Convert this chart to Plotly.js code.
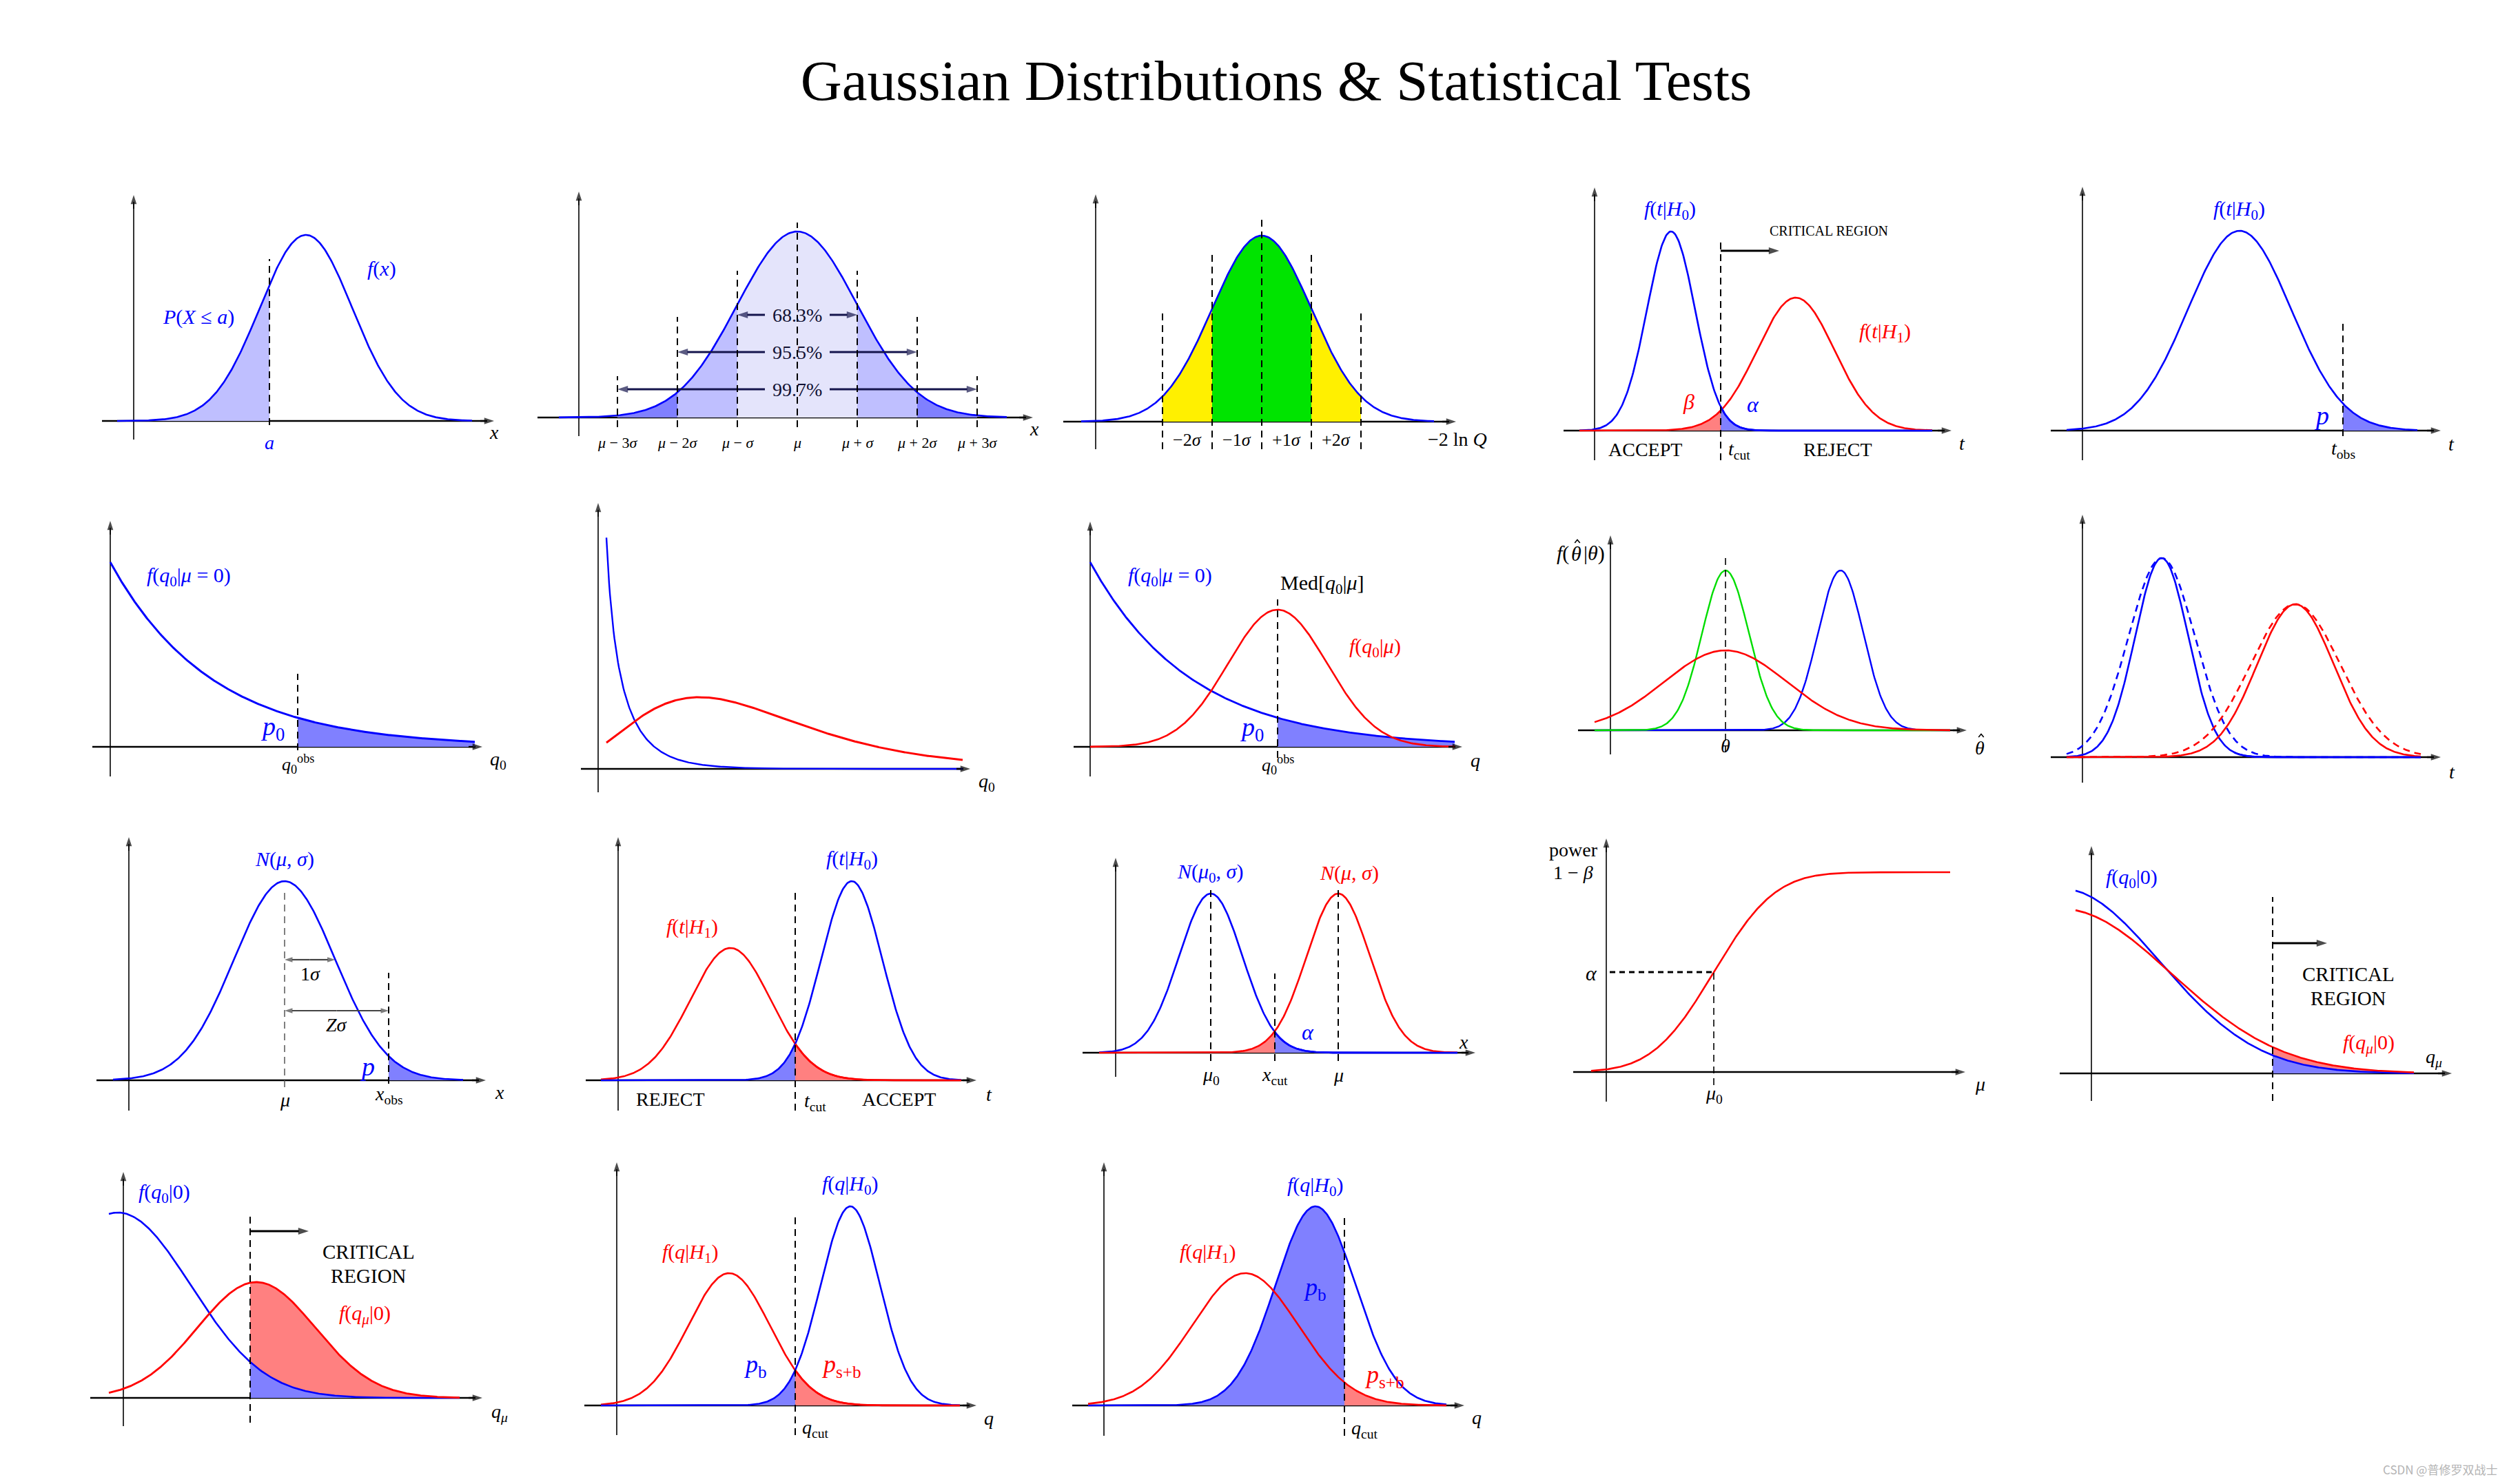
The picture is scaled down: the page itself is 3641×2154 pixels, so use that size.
<!DOCTYPE html>
<html>
<head>
<meta charset="utf-8">
<script src="https://cdn.plot.ly/plotly-3.0.1.min.js"></script>
<style>html,body{margin:0;padding:0;background:#fff;}#chart{width:3641px;height:2154px;}</style>
</head>
<body>
<div id="chart"></div>
<script>
// ================= DATA (drawing units: 1 unit = 50 px of the original figure) =================
// Gaussian curves are given as [mean, sigma, peak height]
// Panel 1 : f(x), P(X <= a)
const p1Curve = [5.00, 1.345, 5.40];
const p1Span  = [-0.48, 9.82];
const p1A     = 3.94;
// Panel 2 : 68.3 / 95.5 / 99.7 %
const p2Curve = [6.34, 1.74, 5.40];
const p2Span  = [-0.58, 12.42];
const p2Sigmas = [-3, -2, -1, 0, 1, 2, 3];
const p2TickLabels = ['<i>μ</i> − 3<i>σ</i>', '<i>μ</i> − 2<i>σ</i>', '<i>μ</i> − <i>σ</i>', '<i>μ</i>',
                      '<i>μ</i> + <i>σ</i>', '<i>μ</i> + 2<i>σ</i>', '<i>μ</i> + 3<i>σ</i>'];
const p2Pct = ['68.3%', '95.5%', '99.7%'];
// Panel 3 : -2 ln Q bands
const p3Curve = [4.82, 1.44, 5.40];
const p3Span  = [-0.42, 9.82];
const p3Sigmas = [-2, -1, 0, 1, 2];
const p3BandLabels = ['−2<i>σ</i>', '−1<i>σ</i>', '+1<i>σ</i>', '+2<i>σ</i>'];
// Panel 4 : f(t|H0), f(t|H1), critical region
const p4H0 = [2.22, 0.70, 5.78];
const p4H1 = [5.84, 1.12, 3.86];
const p4Span = [-0.44, 9.80];
const p4Cut = 3.66;
// Panel 5 : p-value
const p5H0 = [4.56, 1.50, 5.80];
const p5Span = [-0.46, 9.72];
const p5Obs = 7.56;
// Panel 6 : f(q0|mu=0)  [height at 0, decay length]
const p6Exp = [5.36, 2.94];
const p6Span = [0, 10.58];
const p6Obs = 5.44;
// Panel 7 : chi-square like / skewed
const p7Chi  = [4.18, 1.0];              // amplitude, scale
const p7Skew = [2.08, 2.94, 3.5, 0.383]; // peak, mode, shift, log-width
const p7Span = [0.24, 10.58];
// Panel 8 : Med[q0|mu]
const p8Exp = [5.36, 2.94];
const p8Alt = [5.44, 1.44, 3.98];
const p8Span = [0, 10.58];
const p8Obs = 5.44;
// Panel 9 : f(theta_hat|theta)
const p9Green = [3.34, 0.68, 4.64];
const p9Red   = [3.34, 1.78, 2.32];
const p9Blue  = [6.68, 0.66, 4.64];
const p9Span  = [-0.46, 9.86];
// Panel 10 : solid vs dashed
const p10BlueSolid = [2.30, 0.77, 5.78];
const p10BlueDash  = [2.30, 0.96, 5.78];
const p10RedSolid  = [6.18, 1.11, 4.44];
const p10RedDash   = [6.18, 1.30, 4.44];
const p10Span = [-0.46, 9.82];
// Panel 11 : Z sigma
const p11Curve = [4.52, 1.47, 5.78];
const p11Span = [-0.46, 9.70];
const p11Obs = 7.54;
// Panel 12 : reject / accept
const p12H1 = [3.26, 1.17, 3.84];
const p12H0 = [6.78, 0.89, 5.78];
const p12Span = [-0.50, 9.96];
const p12Cut = 5.14;
// Panel 13 : N(mu0,sigma), N(mu,sigma)
const p13Null = [2.76, 0.92, 4.62];
const p13Alt  = [6.46, 0.92, 4.62];
const p13Span = [-0.48, 9.92];
const p13Cut = 4.62;
// Panel 14 : power curve [centre, width, plateau]
const p14Power = [3.12, 1.40, 5.80];
const p14Span = [-0.44, 9.98];
// Panel 15 : f(q0|0), f(q_mu|0)
const p15Q0  = [-0.86, 2.84, 5.36];
const p15Qmu = [-0.89, 3.21, 4.78];
const p15Span = [-0.46, 9.36];
const p15Cut = 5.26;
// Panel 16
const p16Q0  = [-0.16, 2.12, 5.38];
const p16Qmu = [3.86, 1.71, 3.36];
const p16Span = [-0.42, 9.76];
const p16Cut = 3.68;
// Panel 17 : p_b, p_s+b
const p17H1 = [3.26, 1.18, 3.84];
const p17H0 = [6.78, 0.86, 5.78];
const p17Span = [-0.46, 9.96];
const p17Cut = 5.18;
// Panel 18
const p18H1 = [4.10, 1.54, 3.84];
const p18H0 = [6.14, 1.16, 5.78];
const p18Span = [-0.46, 9.94];
const p18Cut = 6.98;

// ================= LAYOUT (panel frames: origin in px, axis extents in units) =================
const W = 3641, H = 2154, U = 50;
const PADX = 1.3, PADY0 = 1.0, PADY1 = 0.6;
const frames = [
  {o:[194,611],  x:[-0.92,10.46], y:[-0.54,6.56]},
  {o:[840,606],  x:[-1.20,13.18], y:[-0.54,6.56]},
  {o:[1590,612], x:[-0.94,10.46], y:[-0.80,6.60]},
  {o:[2314,625], x:[-0.90,10.36], y:[-0.86,7.06]},
  {o:[3022,625], x:[-0.92,10.40], y:[-0.86,7.08]},
  {o:[160,1084], x:[-0.52,10.80], y:[-0.86,6.56]},
  {o:[868,1116], x:[-0.50,10.80], y:[-0.68,7.72]},
  {o:[1582,1084],x:[-0.48,10.80], y:[-0.86,6.54]},
  {o:[2337,1060],x:[-0.94,10.34], y:[-0.70,5.66]},
  {o:[3022,1099],x:[-0.92,10.40], y:[-0.74,7.04]},
  {o:[187,1568], x:[-0.94,10.36], y:[-0.88,7.06]},
  {o:[897,1568], x:[-0.94,10.40], y:[-0.88,7.06]},
  {o:[1619,1528],x:[-0.96,10.44], y:[-0.70,5.66]},
  {o:[2331,1556],x:[-0.96,10.42], y:[-0.86,6.78]},
  {o:[3035,1558],x:[-0.92,10.46], y:[-0.80,6.60]},
  {o:[179,2029], x:[-0.96,10.42], y:[-0.82,6.56]},
  {o:[895,2040], x:[-0.94,10.44], y:[-0.86,7.06]},
  {o:[1602,2040],x:[-0.92,10.46], y:[-0.88,7.06]}
];

const FONT = "'Liberation Serif','Times New Roman',serif";
const BLUE = '#0000ff', RED = '#ff0000', GREEN = '#00dd00', BLACK = '#000000';
const FB = '#8080ff', FB2 = '#bfbfff', FB3 = '#e4e4fb', FR = '#ff8080';
const YEL = '#fff000', GRN = '#00e400';

const traces = [], arrowTraces = [], shapes = [], annotations = [];
const ref = k => ({x: k === 1 ? 'x' : 'x' + k, y: k === 1 ? 'y' : 'y' + k});
function sample(a, b, n) { const xs = []; for (let i = 0; i <= n; i++) xs.push(a + (b - a) * i / n); return xs; }
const gauss = p => x => p[2] * Math.exp(-Math.pow(x - p[0], 2) / (2 * p[1] * p[1]));
function erf(x) {
  const t = 1 / (1 + 0.3275911 * Math.abs(x));
  const y = 1 - (((((1.061405429 * t - 1.453152027) * t) + 1.421413741) * t - 0.284496736) * t + 0.254829592) * t * Math.exp(-x * x);
  return x >= 0 ? y : -y;
}
function line(k, f, span, color, width, dash) {
  const r = ref(k), xs = sample(span[0], span[1], 400);
  traces.push({type:'scatter', mode:'lines', x:xs, y:xs.map(f), xaxis:r.x, yaxis:r.y,
    line:{color:color, width:width || 2.6, dash:dash || 'solid'}, hoverinfo:'skip', showlegend:false});
}
function area(k, f, a, b, color, g) {
  const r = ref(k), xs = sample(a, b, 240);
  const top = xs.map(f), bot = g ? xs.map(g) : xs.map(() => 0);
  traces.push({type:'scatter', mode:'lines', x:xs.concat(xs.slice().reverse()), y:top.concat(bot.slice().reverse()),
    fill:'toself', fillcolor:color, line:{width:0, color:color}, xaxis:r.x, yaxis:r.y, hoverinfo:'skip', showlegend:false});
}
function seg(k, x0, y0, x1, y1, color, width, dash, layer) {
  const r = ref(k);
  shapes.push({type:'line', xref:r.x, yref:r.y, x0:x0, y0:y0, x1:x1, y1:y1,
    line:{color:color || BLACK, width:width || 2, dash:dash || 'solid'}, layer:layer || 'above'});
}
function vdash(k, x, y0, y1, color, width) { seg(k, x, y0, x, y1, color || BLACK, width || 2, '10px,7px'); }
// small circumflex accent (for theta-hat) drawn as a path
function hat(k, x, y) {
  const r = ref(k);
  shapes.push({type:'path', xref:r.x, yref:r.y, path:`M ${x - 0.075},${y} L ${x},${y + 0.09} L ${x + 0.075},${y}`,
    line:{color:BLACK, width:1.6}, layer:'above'});
}
// arrow from (x0,y0) to head at (x1,y1), drawn as a line trace with an arrow marker at its end
function arrow(k, x0, y0, x1, y1, color, width, size) {
  const r = ref(k);
  arrowTraces.push({type:'scatter', mode:'lines+markers', x:[x0, x1], y:[y0, y1], xaxis:r.x, yaxis:r.y,
    line:{color:color, width:width}, cliponaxis:false, hoverinfo:'skip', showlegend:false,
    marker:{symbol:['circle', 'arrow'], size:[0, size || 14], color:color, angleref:'previous', line:{width:0}}});
}
function label(k, x, y, text, color, size, anchor) {
  const r = ref(k);
  annotations.push({xref:r.x, yref:r.y, x:x, y:y, text:text, showarrow:false,
    font:{family:FONT, size:size || 30, color:color || BLACK}, xanchor:anchor || 'center', yanchor:'middle'});
}

const layout = {
  width:W, height:H, margin:{l:0, r:0, t:0, b:0}, paper_bgcolor:'#ffffff', plot_bgcolor:'rgba(0,0,0,0)',
  showlegend:false,
  title:{text:'Gaussian Distributions &amp; Statistical Tests', font:{family:FONT, size:83, color:BLACK},
         x:1852 / W, y:1 - 116 / H, xanchor:'center', yanchor:'middle', xref:'paper', yref:'container'}
};

// axes + axis arrows
frames.forEach((fr, i) => {
  const k = i + 1, sx = k === 1 ? '' : String(k), r = ref(k);
  const rx = [fr.x[0] - PADX, fr.x[1] + PADX], ry = [fr.y[0] - PADY0, fr.y[1] + PADY1];
  const x0 = (fr.o[0] + rx[0] * U) / W, x1 = (fr.o[0] + rx[1] * U) / W;
  const y0 = 1 - (fr.o[1] - ry[0] * U) / H, y1 = 1 - (fr.o[1] - ry[1] * U) / H;
  layout['xaxis' + sx] = {domain:[x0, x1], range:rx, visible:false, fixedrange:true, anchor:r.y};
  layout['yaxis' + sx] = {domain:[y0, y1], range:ry, visible:false, fixedrange:true, anchor:r.x};
  seg(k, fr.x[0], 0, fr.x[1] - 0.2, 0, BLACK, 2.6, 'solid', 'below');
  seg(k, 0, fr.y[0], 0, fr.y[1] - 0.2, BLACK, 1.6, 'solid', 'below');
  arrow(k, fr.x[1] - 0.4, 0, fr.x[1], 0, BLACK, 2.4, 15);
  arrow(k, 0, fr.y[1] - 0.4, 0, fr.y[1], BLACK, 1.6, 14);
});

// ---------- Panel 1 ----------
{
  const g = gauss(p1Curve);
  area(1, g, p1Span[0], p1A, FB2);
  line(1, g, p1Span, BLUE);
  vdash(1, p1A, -0.12, 4.7);
  label(1, p1A, -0.62, '<i>a</i>', BLUE, 28);
  label(1, 10.46, -0.32, '<i>x</i>', BLACK, 28);
  label(1, 7.2, 4.42, '<i>f</i>(<i>x</i>)', BLUE, 30);
  label(1, 1.88, 3.02, '<i>P</i>(<i>X</i> ≤ <i>a</i>)', BLUE, 30);
}
// ---------- Panel 2 ----------
{
  const g = gauss(p2Curve), m = p2Curve[0], s = p2Curve[1];
  area(2, g, m - s, m + s, FB3);
  area(2, g, m - 2 * s, m - s, FB2); area(2, g, m + s, m + 2 * s, FB2);
  area(2, g, m - 3 * s, m - 2 * s, FB); area(2, g, m + 2 * s, m + 3 * s, FB);
  line(2, g, p2Span, BLUE);
  const tops = [1.2, 2.92, 4.26, 5.66, 4.26, 2.92, 1.2];
  p2Sigmas.forEach((kk, i) => {
    vdash(2, m + kk * s, -0.28, tops[i]);
    label(2, m + kk * s, -0.72, p2TickLabels[i], BLACK, 22);
  });
  const levels = [2.98, 1.90, 0.82];
  p2Pct.forEach((t, j) => {
    arrow(2, m - 0.94, levels[j], m - (j + 1) * s, levels[j], '#15154d', 3, 16);
    arrow(2, m + 0.94, levels[j], m + (j + 1) * s, levels[j], '#15154d', 3, 16);
    label(2, m, levels[j], t, '#111133', 28);
  });
  label(2, 13.22, -0.32, '<i>x</i>', BLACK, 28);
}
// ---------- Panel 3 ----------
{
  const g = gauss(p3Curve), m = p3Curve[0], s = p3Curve[1];
  area(3, g, m - s, m + s, GRN);
  area(3, g, m - 2 * s, m - s, YEL); area(3, g, m + s, m + 2 * s, YEL);
  line(3, g, p3Span, BLUE);
  const tops = [3.24, 4.88, 5.94, 4.88, 3.24];
  p3Sigmas.forEach((kk, i) => vdash(3, m + kk * s, -0.8, tops[i]));
  p3BandLabels.forEach((t, i) => label(3, m + (i - 1.5) * s, -0.52, t, BLACK, 26));
  label(3, 10.5, -0.5, '−2 ln <i>Q</i>', BLACK, 28);
}
// ---------- Panel 4 ----------
{
  const g0 = gauss(p4H0), g1 = gauss(p4H1);
  area(4, g1, p4Span[0], p4Cut, FR);
  area(4, g0, p4Cut, p4Span[1], FB);
  line(4, g0, p4Span, BLUE);
  line(4, g1, p4Span, RED);
  line(4, g0, [p4Cut, p4Span[1]], BLUE);
  vdash(4, p4Cut, -0.86, 5.5);
  arrow(4, p4Cut, 5.22, 5.36, 5.22, BLACK, 3, 16);
  label(4, 6.8, 5.8, 'CRITICAL REGION', BLACK, 20);
  label(4, 2.18, 6.4, '<i>f</i>(<i>t</i>|<i>H</i><sub>0</sub>)', BLUE, 30);
  label(4, 8.42, 2.84, '<i>f</i>(<i>t</i>|<i>H</i><sub>1</sub>)', RED, 30);
  label(4, 2.72, 0.84, '<i>β</i>', RED, 32);
  label(4, 4.6, 0.76, '<i>α</i>', BLUE, 32);
  label(4, 1.46, -0.54, 'ACCEPT', BLACK, 28);
  label(4, 4.2, -0.56, '<i>t</i><sub>cut</sub>', BLACK, 28);
  label(4, 7.06, -0.54, 'REJECT', BLACK, 28);
  label(4, 10.66, -0.36, '<i>t</i>', BLACK, 28);
}
// ---------- Panel 5 ----------
{
  const g = gauss(p5H0);
  area(5, g, p5Obs, p5Span[1], FB);
  line(5, g, p5Span, BLUE);
  vdash(5, p5Obs, -0.16, 3.14);
  label(5, 4.54, 6.4, '<i>f</i>(<i>t</i>|<i>H</i><sub>0</sub>)', BLUE, 30);
  label(5, 6.94, 0.44, '<i>p</i>', BLUE, 38);
  label(5, 7.56, -0.56, '<i>t</i><sub>obs</sub>', BLACK, 28);
  label(5, 10.7, -0.4, '<i>t</i>', BLACK, 28);
}
// ---------- Panel 6 ----------
{
  const f = x => p6Exp[0] * Math.exp(-x / p6Exp[1]);
  area(6, f, p6Obs, p6Span[1], FB);
  line(6, f, p6Span, BLUE, 3);
  vdash(6, p6Obs, -0.1, 2.12);
  label(6, 2.28, 4.94, '<i>f</i>(<i>q</i><sub>0</sub>|<i>μ</i> = 0)', BLUE, 30);
  label(6, 4.7, 0.54, '<i>p</i><sub>0</sub>', BLUE, 38);
  label(6, 5.44, -0.5, '<i>q</i><sub>0</sub><sup>obs</sup>', BLACK, 26);
  label(6, 11.26, -0.38, '<i>q</i><sub>0</sub>', BLACK, 28);
}
// ---------- Panel 7 ----------
{
  const fb = x => p7Chi[0] / Math.sqrt(x) * Math.exp(-x / p7Chi[1]);
  const fr = x => p7Skew[0] * Math.exp(-Math.pow(Math.log((x + p7Skew[2]) / (p7Skew[1] + p7Skew[2])), 2) / (2 * p7Skew[3] * p7Skew[3]));
  line(7, fb, p7Span, BLUE, 2.4);
  line(7, fr, p7Span, RED, 3);
  label(7, 11.28, -0.38, '<i>q</i><sub>0</sub>', BLACK, 28);
}
// ---------- Panel 8 ----------
{
  const fb = x => p8Exp[0] * Math.exp(-x / p8Exp[1]);
  const gr = gauss(p8Alt);
  area(8, fb, p8Obs, p8Span[1], FB);
  line(8, fb, p8Span, BLUE, 2.8);
  line(8, gr, p8Span, RED, 2.6);
  vdash(8, p8Obs, -0.32, 4.28);
  label(8, 2.32, 4.94, '<i>f</i>(<i>q</i><sub>0</sub>|<i>μ</i> = 0)', BLUE, 30);
  label(8, 6.74, 4.72, 'Med[<i>q</i><sub>0</sub>|<i>μ</i>]', BLACK, 30);
  label(8, 8.26, 2.88, '<i>f</i>(<i>q</i><sub>0</sub>|<i>μ</i>)', RED, 30);
  label(8, 4.68, 0.52, '<i>p</i><sub>0</sub>', BLUE, 38);
  label(8, 5.44, -0.52, '<i>q</i><sub>0</sub><sup>obs</sup>', BLACK, 26);
  label(8, 11.18, -0.38, '<i>q</i>', BLACK, 28);
}
// ---------- Panel 9 ----------
{
  line(9, gauss(p9Blue), p9Span, BLUE, 2.4);
  line(9, gauss(p9Green), p9Span, GREEN, 2.4);
  line(9, gauss(p9Red), p9Span, RED, 2.6);
  vdash(9, p9Green[0], -0.64, 5.1, BLACK, 1.6);
  // f(θ̂|θ) : built in three parts so the hat sits on the first θ
  const xt = -1.0, yt = 5.14;
  label(9, xt - 0.17, yt, '<i>f</i>(', BLACK, 30, 'right');
  label(9, xt, yt, '<i>θ</i>', BLACK, 30);
  label(9, xt + 0.17, yt, '|<i>θ</i>)', BLACK, 30, 'left');
  hat(9, xt + 0.04, yt + 0.3);
  label(9, 3.34, -0.44, '<i>θ</i>', BLACK, 28);
  label(9, 10.72, -0.5, '<i>θ</i>', BLACK, 28);
  hat(9, 10.76, -0.2);
}
// ---------- Panel 10 ----------
{
  line(10, gauss(p10BlueDash), p10Span, BLUE, 2.6, '10px,7px');
  line(10, gauss(p10BlueSolid), p10Span, BLUE, 2.6);
  line(10, gauss(p10RedDash), p10Span, RED, 2.6, '10px,7px');
  line(10, gauss(p10RedSolid), p10Span, RED, 2.6);
  line(10, gauss(p10BlueSolid), [4.4, p10Span[1]], BLUE, 2.6);
  label(10, 10.72, -0.42, '<i>t</i>', BLACK, 28);
}
// ---------- Panel 11 ----------
{
  const g = gauss(p11Curve), m = p11Curve[0], s = p11Curve[1];
  area(11, g, p11Obs, p11Span[1], FB);
  line(11, g, p11Span, BLUE);
  vdash(11, p11Obs, -0.1, 3.12);
  vdash(11, m, -0.2, 5.56, '#555555', 1.5);
  arrow(11, m + s / 2, 3.5, m + s, 3.5, '#444444', 2.2, 12);
  arrow(11, m + s / 2, 3.5, m, 3.5, '#444444', 2.2, 12);
  arrow(11, (m + p11Obs) / 2, 2.02, p11Obs, 2.02, '#444444', 2.2, 12);
  arrow(11, (m + p11Obs) / 2, 2.02, m, 2.02, '#444444', 2.2, 12);
  label(11, 5.26, 3.1, '1<i>σ</i>', BLACK, 28);
  label(11, 6.02, 1.62, '<i>Zσ</i>', BLACK, 28);
  label(11, 4.52, 6.42, '<i>N</i>(<i>μ</i>, <i>σ</i>)', BLUE, 30);
  label(11, 6.92, 0.4, '<i>p</i>', BLUE, 38);
  label(11, 4.52, -0.56, '<i>μ</i>', BLACK, 28);
  label(11, 7.54, -0.42, '<i>x</i><sub>obs</sub>', BLACK, 28);
  label(11, 10.76, -0.34, '<i>x</i>', BLACK, 28);
}
// ---------- Panel 12 ----------
{
  const g1 = gauss(p12H1), g0 = gauss(p12H0);
  area(12, g0, p12Span[0], p12Cut, FB);
  area(12, g1, p12Cut, p12Span[1], FR);
  line(12, g1, p12Span, RED);
  line(12, g0, p12Span, BLUE);
  line(12, g1, [p12Cut, p12Span[1]], RED);
  vdash(12, p12Cut, -0.88, 5.48);
  label(12, 2.14, 4.42, '<i>f</i>(<i>t</i>|<i>H</i><sub>1</sub>)', RED, 30);
  label(12, 6.78, 6.4, '<i>f</i>(<i>t</i>|<i>H</i><sub>0</sub>)', BLUE, 30);
  label(12, 1.52, -0.54, 'REJECT', BLACK, 28);
  label(12, 5.72, -0.62, '<i>t</i><sub>cut</sub>', BLACK, 28);
  label(12, 8.14, -0.54, 'ACCEPT', BLACK, 28);
  label(12, 10.76, -0.4, '<i>t</i>', BLACK, 28);
}
// ---------- Panel 13 ----------
{
  const g0 = gauss(p13Null), g1 = gauss(p13Alt);
  area(13, g1, p13Span[0], p13Cut, FR);
  area(13, g0, p13Cut, p13Span[1], FB);
  line(13, g0, p13Span, BLUE);
  line(13, g1, p13Span, RED);
  line(13, g0, [p13Cut, p13Span[1]], BLUE);
  vdash(13, p13Null[0], -0.24, 4.72);
  vdash(13, p13Alt[0], -0.24, 4.72);
  vdash(13, p13Cut, -0.24, 2.3);
  label(13, 2.74, 5.22, '<i>N</i>(<i>μ</i><sub>0</sub>, <i>σ</i>)', BLUE, 30);
  label(13, 6.78, 5.22, '<i>N</i>(<i>μ</i>, <i>σ</i>)', RED, 30);
  label(13, 5.58, 0.6, '<i>α</i>', BLUE, 32);
  label(13, 10.1, 0.32, '<i>x</i>', BLACK, 28);
  label(13, 2.76, -0.66, '<i>μ</i><sub>0</sub>', BLACK, 28);
  label(13, 4.62, -0.66, '<i>x</i><sub>cut</sub>', BLACK, 28);
  label(13, 6.46, -0.64, '<i>μ</i>', BLACK, 28);
}
// ---------- Panel 14 ----------
{
  const f = x => p14Power[2] * 0.5 * (1 + erf((x - p14Power[0]) / (p14Power[1] * Math.SQRT2)));
  line(14, f, p14Span, RED, 2.6);
  const alphaLevel = f(p14Power[0]);
  seg(14, 0.1, alphaLevel, p14Power[0], alphaLevel, BLACK, 3.2, '8px,6px');
  vdash(14, p14Power[0], -0.38, alphaLevel, BLACK, 1.6);
  label(14, -0.96, 6.46, 'power', BLACK, 28);
  label(14, -0.96, 5.8, '1 − <i>β</i>', BLACK, 28);
  label(14, -0.44, 2.88, '<i>α</i>', BLACK, 30);
  label(14, p14Power[0], -0.64, '<i>μ</i><sub>0</sub>', BLACK, 28);
  label(14, 10.84, -0.34, '<i>μ</i>', BLACK, 28);
}
// ---------- Panel 15 ----------
{
  const g0 = gauss(p15Q0), gm = gauss(p15Qmu);
  area(15, g0, p15Cut, p15Span[1], FB);
  area(15, gm, p15Cut, p15Span[1], FR, g0);
  line(15, g0, p15Span, BLUE);
  line(15, gm, p15Span, RED);
  vdash(15, p15Cut, -0.8, 5.12);
  arrow(15, p15Cut, 3.78, 6.84, 3.78, BLACK, 3, 16);
  label(15, 7.46, 2.88, 'CRITICAL', BLACK, 29);
  label(15, 7.46, 2.18, 'REGION', BLACK, 29);
  label(15, 1.16, 5.66, '<i>f</i>(<i>q</i><sub>0</sub>|0)', BLUE, 30);
  label(15, 8.04, 0.86, '<i>f</i>(<i>q</i><sub><i>μ</i></sub>|0)', RED, 30);
  label(15, 9.94, 0.46, '<i>q</i><sub><i>μ</i></sub>', BLACK, 28);
}
// ---------- Panel 16 ----------
{
  const g0 = gauss(p16Q0), gm = gauss(p16Qmu);
  area(16, g0, p16Cut, p16Span[1], FB);
  area(16, gm, p16Cut, p16Span[1], FR, g0);
  line(16, g0, p16Span, BLUE);
  line(16, gm, p16Span, RED, 2.8);
  vdash(16, p16Cut, -0.72, 5.38);
  arrow(16, p16Cut, 4.84, 5.38, 4.84, BLACK, 3, 16);
  label(16, 7.12, 4.24, 'CRITICAL', BLACK, 29);
  label(16, 7.12, 3.54, 'REGION', BLACK, 29);
  label(16, 1.18, 5.94, '<i>f</i>(<i>q</i><sub>0</sub>|0)', BLUE, 30);
  label(16, 7.0, 2.42, '<i>f</i>(<i>q</i><sub><i>μ</i></sub>|0)', RED, 30);
  label(16, 10.92, -0.42, '<i>q</i><sub><i>μ</i></sub>', BLACK, 28);
}
// ---------- Panel 17 ----------
{
  const g1 = gauss(p17H1), g0 = gauss(p17H0);
  area(17, g0, p17Span[0], p17Cut, FB);
  area(17, g1, p17Cut, p17Span[1], FR);
  line(17, g1, p17Span, RED);
  line(17, g0, p17Span, BLUE);
  line(17, g1, [p17Cut, p17Span[1]], RED);
  vdash(17, p17Cut, -0.86, 5.48);
  label(17, 2.14, 4.42, '<i>f</i>(<i>q</i>|<i>H</i><sub>1</sub>)', RED, 30);
  label(17, 6.78, 6.4, '<i>f</i>(<i>q</i>|<i>H</i><sub>0</sub>)', BLUE, 30);
  label(17, 4.02, 1.16, '<i>p</i><sub>b</sub>', BLUE, 36);
  label(17, 6.52, 1.16, '<i>p</i><sub>s+b</sub>', RED, 36);
  label(17, 5.76, -0.66, '<i>q</i><sub>cut</sub>', BLACK, 28);
  label(17, 10.8, -0.36, '<i>q</i>', BLACK, 28);
}
// ---------- Panel 18 ----------
{
  const g1 = gauss(p18H1), g0 = gauss(p18H0);
  area(18, g0, p18Span[0], p18Cut, FB);
  area(18, g1, p18Cut, p18Span[1], FR);
  line(18, g0, p18Span, BLUE);
  line(18, g1, p18Span, RED);
  vdash(18, p18Cut, -0.88, 5.48);
  label(18, 6.14, 6.36, '<i>f</i>(<i>q</i>|<i>H</i><sub>0</sub>)', BLUE, 30);
  label(18, 3.02, 4.42, '<i>f</i>(<i>q</i>|<i>H</i><sub>1</sub>)', RED, 30);
  label(18, 6.12, 3.4, '<i>p</i><sub>b</sub>', BLUE, 36);
  label(18, 8.14, 0.86, '<i>p</i><sub>s+b</sub>', RED, 36);
  label(18, 7.56, -0.68, '<i>q</i><sub>cut</sub>', BLACK, 28);
  label(18, 10.82, -0.34, '<i>q</i>', BLACK, 28);
}

// watermark
annotations.push({xref:'paper', yref:'paper', x:3541 / W, y:1 - 2132 / H, text:'CSDN @普修罗双战士', showarrow:false,
  font:{family:"'Noto Sans CJK SC','Noto Sans',sans-serif", size:17, color:'#b4b4b4'}, xanchor:'center', yanchor:'middle'});

layout.shapes = shapes;
layout.annotations = annotations;
Plotly.newPlot('chart', traces.concat(arrowTraces), layout, {staticPlot:true, displayModeBar:false});
</script>
</body>
</html>
